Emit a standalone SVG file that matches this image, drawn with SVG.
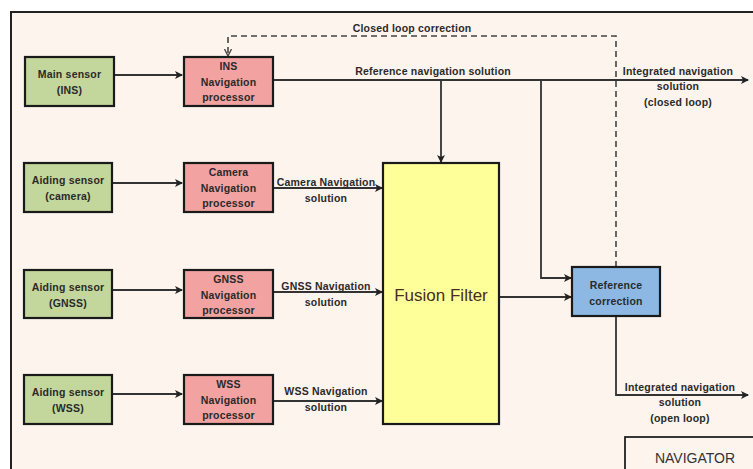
<svg xmlns="http://www.w3.org/2000/svg" width="753" height="469" viewBox="0 0 753 469">
<defs>
<style>
.box{stroke:#1a1a1a;stroke-width:2.2}
.sen{fill:#C3D69B}
.proc{fill:#F2A2A0}
.t{font-family:"Liberation Sans",Arial,sans-serif;font-size:10.5px;font-weight:bold;fill:#2a2a2a;text-anchor:middle;letter-spacing:0.2px}
.ln{stroke:#333;stroke-width:1.8;fill:none}
.dash{stroke:#444;stroke-width:1.6;fill:none;stroke-dasharray:6,4}
</style>
<marker id="ah" markerWidth="8" markerHeight="8" refX="7" refY="4" orient="auto" markerUnits="userSpaceOnUse">
<path d="M0,0 L8,4 L0,8 L2,4 Z" fill="#222"/>
</marker>
<marker id="ah2" markerWidth="8" markerHeight="8" refX="7" refY="4" orient="auto" markerUnits="userSpaceOnUse">
<path d="M0,0.5 L7,4 L0,7.5" fill="none" stroke="#444" stroke-width="1.3"/>
</marker>
</defs>
<rect width="753" height="469" fill="#ffffff"/>
<rect x="11" y="12" width="760" height="470" fill="#FDF4EE" stroke="#222" stroke-width="2"/>

<g id="connectors">
<line class="ln" x1="114" y1="75" x2="182" y2="75" marker-end="url(#ah)"/>
<line class="ln" x1="112" y1="183" x2="182" y2="183" marker-end="url(#ah)"/>
<line class="ln" x1="112" y1="290" x2="182" y2="290" marker-end="url(#ah)"/>
<line class="ln" x1="112" y1="394" x2="182" y2="394" marker-end="url(#ah)"/>
<line class="ln" x1="273" y1="188" x2="382" y2="188" marker-end="url(#ah)"/>
<line class="ln" x1="273" y1="292" x2="382" y2="292" marker-end="url(#ah)"/>
<line class="ln" x1="273" y1="401" x2="382" y2="401" marker-end="url(#ah)"/>
<line class="ln" x1="273" y1="80" x2="748" y2="80" marker-end="url(#ah)"/>
<line class="ln" x1="441" y1="80" x2="441" y2="162" marker-end="url(#ah)"/>
<polyline class="ln" points="541,80 541,278 571,278" marker-end="url(#ah)"/>
<line class="ln" x1="499" y1="297" x2="571" y2="297" marker-end="url(#ah)"/>
<polyline class="ln" points="616,316 616,395 748,395" marker-end="url(#ah)"/>
<polyline class="dash" points="616,267 616,36 228,36 228,56" marker-end="url(#ah2)"/>
</g>

<g id="main-sensor">
<rect class="box sen" x="25" y="57" width="89" height="49"/>
<text class="t" x="69.5" y="78">Main sensor</text>
<text class="t" x="69.5" y="94">(INS)</text>
</g>
<g id="camera-sensor">
<rect class="box sen" x="24" y="163" width="88" height="49"/>
<text class="t" x="68" y="184">Aiding sensor</text>
<text class="t" x="68" y="200">(camera)</text>
</g>
<g id="gnss-sensor">
<rect class="box sen" x="24" y="270" width="88" height="48"/>
<text class="t" x="68" y="291">Aiding sensor</text>
<text class="t" x="68" y="307">(GNSS)</text>
</g>
<g id="wss-sensor">
<rect class="box sen" x="24" y="375" width="88" height="49"/>
<text class="t" x="68" y="396">Aiding sensor</text>
<text class="t" x="68" y="412">(WSS)</text>
</g>

<g id="ins-proc">
<rect class="box proc" x="184" y="57" width="89" height="49"/>
<text class="t" x="228.5" y="70">INS</text>
<text class="t" x="228.5" y="86">Navigation</text>
<text class="t" x="228.5" y="101">processor</text>
</g>
<g id="camera-proc">
<rect class="box proc" x="184" y="163" width="89" height="49"/>
<text class="t" x="228.5" y="176">Camera</text>
<text class="t" x="228.5" y="192">Navigation</text>
<text class="t" x="228.5" y="207">processor</text>
</g>
<g id="gnss-proc">
<rect class="box proc" x="184" y="270" width="89" height="48"/>
<text class="t" x="228.5" y="283">GNSS</text>
<text class="t" x="228.5" y="299">Navigation</text>
<text class="t" x="228.5" y="314">processor</text>
</g>
<g id="wss-proc">
<rect class="box proc" x="184" y="375" width="89" height="49"/>
<text class="t" x="228.5" y="388">WSS</text>
<text class="t" x="228.5" y="404">Navigation</text>
<text class="t" x="228.5" y="419">processor</text>
</g>

<g id="fusion-filter">
<rect class="box" x="383" y="163" width="116" height="261" fill="#FFFF99"/>
<text x="441" y="301" font-family="Liberation Sans,Arial,sans-serif" font-size="17" fill="#4a2c20" text-anchor="middle">Fusion Filter</text>
</g>
<g id="reference-correction">
<rect class="box" x="572" y="267" width="88" height="49" fill="#8DB8E4"/>
<text class="t" x="616" y="289">Reference</text>
<text class="t" x="616" y="305">correction</text>
</g>
<g id="navigator">
<rect x="625" y="437" width="140" height="50" fill="#FDF4EE" stroke="#222" stroke-width="1.8"/>
<text x="695" y="463" font-family="Liberation Sans,Arial,sans-serif" font-size="14" fill="#333" text-anchor="middle">NAVIGATOR</text>
</g>

<g id="labels">
<text class="t" x="412" y="32">Closed loop correction</text>
<text class="t" x="433" y="75">Reference navigation solution</text>
<text class="t" x="678" y="75">Integrated navigation</text>
<text class="t" x="678" y="90">solution</text>
<text class="t" x="678" y="106">(closed loop)</text>
<text class="t" x="326" y="186">Camera Navigation</text>
<text class="t" x="326" y="202">solution</text>
<text class="t" x="326" y="290">GNSS Navigation</text>
<text class="t" x="326" y="306">solution</text>
<text class="t" x="326" y="395">WSS Navigation</text>
<text class="t" x="326" y="411">solution</text>
<text class="t" x="680" y="391">Integrated navigation</text>
<text class="t" x="680" y="406">solution</text>
<text class="t" x="680" y="422">(open loop)</text>
</g>
</svg>
